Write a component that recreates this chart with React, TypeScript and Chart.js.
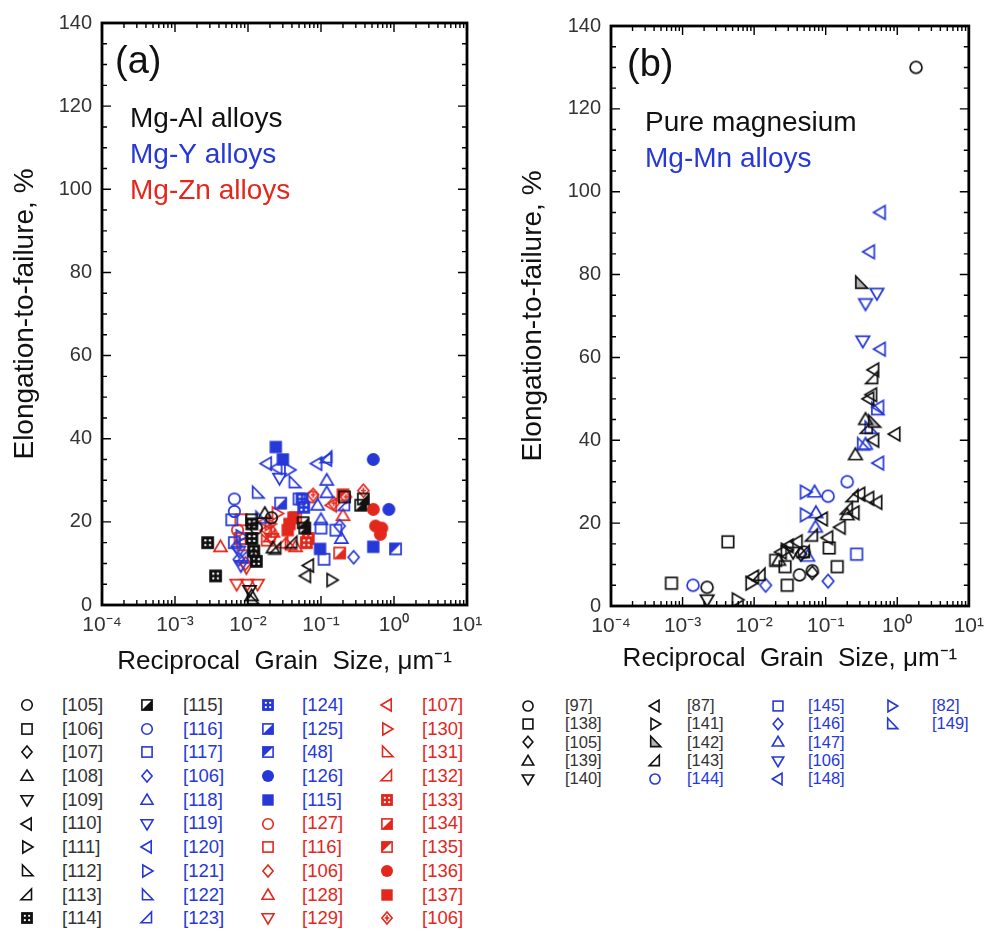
import React, { useEffect, useRef } from 'react';
import { Chart, registerables } from 'chart.js';
Chart.register(...registerables);

const FONT = '"Liberation Sans", Arial, Helvetica, sans-serif';
const BLACK = '#111111';
const BLUE = '#2638d8';
const RED = '#e3271c';
const GREY = '#b5b5b5';

// ---------- axes ----------
const xTickValues = [1e-4, 1e-3, 1e-2, 1e-1, 1, 10];
const xTickLabels = ['10⁻⁴', '10⁻³', '10⁻²', '10⁻¹', '10⁰', '10¹'];
const yTickValues = [0, 20, 40, 60, 80, 100, 120, 140];
const xTitle = 'Reciprocal  Grain  Size, μm⁻¹';
const yTitle = 'Elongation-to-failure, %';

const panelALabels = ['(a)', 'Mg-Al alloys', 'Mg-Y alloys', 'Mg-Zn alloys'];
const panelBLabels = ['(b)', 'Pure magnesium', 'Mg-Mn alloys'];

// ---------- panel (a) data: [reciprocal grain size, elongation %] ----------
// Mg-Al alloys (black)
const a105 = [[0.013, 18.5], [0.021, 21]];
const a106 = [[0.21, 26], [0.0112, 20.5]];
const a107 = [[0.012, 12]];
const a108 = [[0.0112, 2.2], [0.017, 22], [0.022, 13.7]];
const a109 = [[0.0105, 3.5]];
const a110 = [[0.062, 7], [0.068, 9.5]];
const a111 = [[0.14, 6]];
const a112 = [[0.0115, 1.5]];
const a113 = [[0.024, 13.5], [0.04, 15]];
const a114 = [[0.0028, 15], [0.0036, 7], [0.0113, 19.5], [0.0113, 16], [0.013, 10.5], [0.012, 13]];
const a115 = [[0.057, 19.8], [0.06, 18.5], [0.35, 24], [0.38, 25.5]];
// Mg-Y alloys (blue)
const y116 = [[0.0065, 25.5], [0.0065, 22.5]];
const y117 = [[0.006, 20.5], [0.0065, 15], [0.1, 18.5], [0.11, 11], [0.05, 25.5], [0.16, 18]];
const y106 = [[0.28, 11.5], [0.18, 19], [0.0075, 11], [0.007, 14]];
const y118 = [[0.12, 30], [0.12, 27], [0.19, 16], [0.1, 20.5], [0.09, 24]];
const y119 = [[0.027, 30.5], [0.0075, 13], [0.008, 9.5]];
const y120 = [[0.018, 34], [0.088, 34], [0.12, 35], [0.025, 33]];
const y121 = [[0.037, 32.5], [0.008, 16.5]];
const y122 = [[0.0135, 27], [0.043, 29.5], [0.015, 21]];
const y123 = [[0.12, 35.5], [0.0085, 11.5], [0.21, 24]];
const y124 = [[0.055, 25.5], [0.058, 23.5]];
const y125 = [[0.028, 24.5]];
const y48 = [[1.05, 13.5]];
const y126 = [[0.52, 35], [0.85, 23]];
const y115 = [[0.024, 38], [0.03, 35], [0.097, 13.5], [0.52, 14]];
// Mg-Zn alloys (red)
const z127 = [[0.076, 26], [0.0072, 18]];
const z116 = [[0.008, 20.5], [0.0078, 16], [0.0085, 14.5]];
const z106 = [[0.0092, 10]];
const z128 = [[0.0042, 14], [0.2, 21.5], [0.045, 14], [0.022, 17.5]];
const z129 = [[0.007, 5], [0.0098, 5], [0.0135, 5], [0.0095, 9], [0.021, 16]];
const z107 = [[0.017, 20], [0.018, 18], [0.14, 24]];
const z130 = [[0.02, 19.5], [0.025, 22]];
const z131 = [[0.038, 14.5], [0.018, 15.5]];
const z132 = [[0.02, 16.5], [0.03, 15]];
const z133 = [[0.067, 16], [0.063, 15]];
const z134 = [[0.18, 12.5]];
const z135 = [[0.045, 21], [0.2, 26.5]];
const z136 = [[0.52, 23], [0.56, 19], [0.68, 18.5], [0.65, 17]];
const z137 = [[0.042, 21], [0.037, 19.5], [0.035, 18]];
const z106b = [[0.38, 27.5], [0.15, 24.5], [0.078, 26.5], [0.22, 26]];

// ---------- panel (b) data ----------
// Pure magnesium (black)
const p97 = [[1.83, 130], [0.0022, 4.5], [0.043, 7.5], [0.065, 8.5], [0.05, 13]];
const p138 = [[0.0007, 5.5], [0.0043, 15.5], [0.029, 5], [0.112, 14], [0.145, 9.5], [0.02, 11], [0.027, 9.5]];
const p105 = [[0.065, 8], [0.045, 12.5]];
const p139 = [[0.26, 36.5], [0.36, 45], [0.022, 11], [0.2, 22]];
const p140 = [[0.0022, 1.5], [0.035, 13]];
const p87 = [[0.93, 41.5], [0.16, 19], [0.25, 22.5], [0.47, 57], [0.44, 51], [0.4, 50], [0.52, 25], [0.4, 26],
  [0.0098, 7], [0.024, 13], [0.03, 14.5], [0.04, 15.5], [0.09, 21], [0.107, 16.5], [0.47, 40], [0.3, 27]];
const p141 = [[0.0058, 1.5], [0.009, 5.5], [0.028, 13.5]];
const p142 = [[0.31, 78], [0.47, 44.5]];
const p143 = [[0.24, 26.5], [0.38, 43], [0.065, 17], [0.2, 23.5], [0.012, 7.5], [0.45, 55], [0.05, 13]];
// Mg-Mn alloys (blue)
const m144 = [[0.0014, 5], [0.108, 26.5], [0.2, 30]];
const m145 = [[0.27, 12.5]];
const m146 = [[0.0145, 5], [0.108, 6]];
const m147 = [[0.07, 27.5], [0.073, 22.5], [0.072, 19], [0.056, 12], [0.36, 39]];
const m106 = [[0.33, 64], [0.36, 73], [0.52, 75.5]];
const m148 = [[0.58, 95], [0.41, 85.5], [0.58, 62], [0.55, 34.5], [0.55, 48]];
const m82 = [[0.052, 27.5], [0.052, 22]];
const m149 = [[0.52, 47.5], [0.42, 43], [0.33, 39]];

type S = { ref: string; marker: string; color: string; pts: number[][] };

const seriesA: S[] = [
  { ref: '[105]', marker: 'circle', color: BLACK, pts: a105 },
  { ref: '[106]', marker: 'square', color: BLACK, pts: a106 },
  { ref: '[107]', marker: 'diamond', color: BLACK, pts: a107 },
  { ref: '[108]', marker: 'up', color: BLACK, pts: a108 },
  { ref: '[109]', marker: 'down', color: BLACK, pts: a109 },
  { ref: '[110]', marker: 'left', color: BLACK, pts: a110 },
  { ref: '[111]', marker: 'right', color: BLACK, pts: a111 },
  { ref: '[112]', marker: 'rta', color: BLACK, pts: a112 },
  { ref: '[113]', marker: 'rtb', color: BLACK, pts: a113 },
  { ref: '[114]', marker: 'xbox', color: BLACK, pts: a114 },
  { ref: '[115]', marker: 'halfbr', color: BLACK, pts: a115 },
  { ref: '[116]', marker: 'circle', color: BLUE, pts: y116 },
  { ref: '[117]', marker: 'square', color: BLUE, pts: y117 },
  { ref: '[106]', marker: 'diamond', color: BLUE, pts: y106 },
  { ref: '[118]', marker: 'up', color: BLUE, pts: y118 },
  { ref: '[119]', marker: 'down', color: BLUE, pts: y119 },
  { ref: '[120]', marker: 'left', color: BLUE, pts: y120 },
  { ref: '[121]', marker: 'right', color: BLUE, pts: y121 },
  { ref: '[122]', marker: 'rta', color: BLUE, pts: y122 },
  { ref: '[123]', marker: 'rtb', color: BLUE, pts: y123 },
  { ref: '[124]', marker: 'xbox', color: BLUE, pts: y124 },
  { ref: '[125]', marker: 'halfbr', color: BLUE, pts: y125 },
  { ref: '[48]', marker: 'halftl', color: BLUE, pts: y48 },
  { ref: '[126]', marker: 'fcircle', color: BLUE, pts: y126 },
  { ref: '[115]', marker: 'fsquare', color: BLUE, pts: y115 },
  { ref: '[127]', marker: 'circle', color: RED, pts: z127 },
  { ref: '[116]', marker: 'square', color: RED, pts: z116 },
  { ref: '[106]', marker: 'diamond', color: RED, pts: z106 },
  { ref: '[128]', marker: 'up', color: RED, pts: z128 },
  { ref: '[129]', marker: 'down', color: RED, pts: z129 },
  { ref: '[107]', marker: 'left', color: RED, pts: z107 },
  { ref: '[130]', marker: 'right', color: RED, pts: z130 },
  { ref: '[131]', marker: 'rta', color: RED, pts: z131 },
  { ref: '[132]', marker: 'rtb', color: RED, pts: z132 },
  { ref: '[133]', marker: 'xbox', color: RED, pts: z133 },
  { ref: '[134]', marker: 'halfbr', color: RED, pts: z134 },
  { ref: '[135]', marker: 'halftl', color: RED, pts: z135 },
  { ref: '[136]', marker: 'fcircle', color: RED, pts: z136 },
  { ref: '[137]', marker: 'fsquare', color: RED, pts: z137 },
  { ref: '[106]', marker: 'dplus', color: RED, pts: z106b },
];

const seriesB: S[] = [
  { ref: '[97]', marker: 'circle', color: BLACK, pts: p97 },
  { ref: '[138]', marker: 'square', color: BLACK, pts: p138 },
  { ref: '[105]', marker: 'diamond', color: BLACK, pts: p105 },
  { ref: '[139]', marker: 'up', color: BLACK, pts: p139 },
  { ref: '[140]', marker: 'down', color: BLACK, pts: p140 },
  { ref: '[87]', marker: 'left', color: BLACK, pts: p87 },
  { ref: '[141]', marker: 'right', color: BLACK, pts: p141 },
  { ref: '[142]', marker: 'rtag', color: BLACK, pts: p142 },
  { ref: '[143]', marker: 'rtb', color: BLACK, pts: p143 },
  { ref: '[144]', marker: 'circle', color: BLUE, pts: m144 },
  { ref: '[145]', marker: 'square', color: BLUE, pts: m145 },
  { ref: '[146]', marker: 'diamond', color: BLUE, pts: m146 },
  { ref: '[147]', marker: 'up', color: BLUE, pts: m147 },
  { ref: '[106]', marker: 'down', color: BLUE, pts: m106 },
  { ref: '[148]', marker: 'left', color: BLUE, pts: m148 },
  { ref: '[82]', marker: 'right', color: BLUE, pts: m82 },
  { ref: '[149]', marker: 'rta', color: BLUE, pts: m149 },
];

// ---------- marker drawing ----------
function drawMarker(ctx: CanvasRenderingContext2D, cx: number, cy: number, s: number, marker: string, color: string, lw: number) {
  const r = s / 2;
  const h = r * 0.85;
  ctx.save();
  ctx.lineWidth = lw;
  ctx.strokeStyle = color;
  ctx.fillStyle = color;
  ctx.lineJoin = 'miter';
  const poly = (pts: number[][], fill?: string) => {
    ctx.beginPath();
    pts.forEach((p, i) => (i ? ctx.lineTo(p[0], p[1]) : ctx.moveTo(p[0], p[1])));
    ctx.closePath();
    if (fill) { ctx.fillStyle = fill; ctx.fill(); }
    ctx.stroke();
  };
  switch (marker) {
    case 'circle':
      ctx.beginPath(); ctx.arc(cx, cy, r * 0.88, 0, Math.PI * 2); ctx.stroke(); break;
    case 'fcircle':
      ctx.beginPath(); ctx.arc(cx, cy, r, 0, Math.PI * 2); ctx.fill(); break;
    case 'square':
      ctx.strokeRect(cx - h, cy - h, 2 * h, 2 * h); break;
    case 'fsquare':
      ctx.fillRect(cx - r * 0.95, cy - r * 0.95, r * 1.9, r * 1.9); break;
    case 'diamond':
      poly([[cx, cy - r], [cx + r * 0.85, cy], [cx, cy + r], [cx - r * 0.85, cy]]); break;
    case 'up':
      poly([[cx, cy - r], [cx + r, cy + r * 0.7], [cx - r, cy + r * 0.7]]); break;
    case 'down':
      poly([[cx, cy + r], [cx + r, cy - r * 0.7], [cx - r, cy - r * 0.7]]); break;
    case 'left':
      poly([[cx - r, cy], [cx + r * 0.7, cy - r], [cx + r * 0.7, cy + r]]); break;
    case 'right':
      poly([[cx + r, cy], [cx - r * 0.7, cy - r], [cx - r * 0.7, cy + r]]); break;
    case 'rta':
      poly([[cx - r * 0.75, cy - r], [cx - r * 0.75, cy + r * 0.8], [cx + r, cy + r * 0.8]]); break;
    case 'rtag':
      poly([[cx - r * 0.75, cy - r], [cx - r * 0.75, cy + r * 0.8], [cx + r, cy + r * 0.8]], GREY); break;
    case 'rtb':
      poly([[cx + r * 0.75, cy - r], [cx + r * 0.75, cy + r * 0.8], [cx - r, cy + r * 0.8]]); break;
    case 'xbox': {
      ctx.fillRect(cx - h, cy - h, 2 * h, 2 * h);
      ctx.fillStyle = '#ffffff';
      const q = h * 0.42, d = Math.max(1.2, h * 0.28);
      [[-1, -1], [1, -1], [-1, 1], [1, 1]].forEach(([sx, sy]) => {
        ctx.beginPath(); ctx.arc(cx + sx * q, cy + sy * q, d / 2 + 0.4, 0, Math.PI * 2); ctx.fill();
      });
      ctx.strokeStyle = color;
      ctx.strokeRect(cx - h, cy - h, 2 * h, 2 * h);
      break;
    }
    case 'halfbr':
      ctx.beginPath(); ctx.moveTo(cx + h, cy - h); ctx.lineTo(cx + h, cy + h); ctx.lineTo(cx - h, cy + h); ctx.closePath(); ctx.fill();
      ctx.strokeRect(cx - h, cy - h, 2 * h, 2 * h); break;
    case 'halftl':
      ctx.beginPath(); ctx.moveTo(cx - h, cy - h); ctx.lineTo(cx + h, cy - h); ctx.lineTo(cx - h, cy + h); ctx.closePath(); ctx.fill();
      ctx.strokeRect(cx - h, cy - h, 2 * h, 2 * h); break;
    case 'dplus':
      poly([[cx, cy - r], [cx + r * 0.85, cy], [cx, cy + r], [cx - r * 0.85, cy]]);
      ctx.beginPath();
      ctx.moveTo(cx - r * 0.4, cy); ctx.lineTo(cx + r * 0.4, cy);
      ctx.moveTo(cx, cy - r * 0.45); ctx.lineTo(cx, cy + r * 0.45);
      ctx.stroke();
      break;
  }
  ctx.restore();
}

function markerImage(marker: string, color: string, s: number, lw: number) {
  const c = document.createElement('canvas');
  const d = Math.ceil(s + 6);
  c.width = d; c.height = d;
  const ctx = c.getContext('2d')!;
  drawMarker(ctx, d / 2, d / 2, s, marker, color, lw);
  return c;
}

// ---------- layout ----------
type PanelLayout = {
  width: number; height: number; left: number;
  yAxisWidth: number; xAxisHeight: number; padTop: number; padRight: number;
  yTitlePad: number; xTitlePad: number; markerSize: number;
  texts: { t: string; x: number; y: number; size: number; color: string }[];
};

const layoutA: PanelLayout = {
  width: 495, height: 680, left: 0,
  yAxisWidth: 102, xAxisHeight: 75, padTop: 23, padRight: 28,
  yTitlePad: 8, xTitlePad: 3, markerSize: 13,
  texts: [
    { t: panelALabels[0], x: 115, y: 73, size: 38, color: BLACK },
    { t: panelALabels[1], x: 130, y: 127, size: 28, color: BLACK },
    { t: panelALabels[2], x: 130, y: 163, size: 28, color: BLUE },
    { t: panelALabels[3], x: 130, y: 199, size: 28, color: RED },
  ],
};
const layoutB: PanelLayout = {
  width: 497, height: 680, left: 495,
  yAxisWidth: 116, xAxisHeight: 74, padTop: 26, padRight: 15,
  yTitlePad: 21, xTitlePad: 6, markerSize: 13.5,
  texts: [
    { t: panelBLabels[0], x: 132, y: 76, size: 38, color: BLACK },
    { t: panelBLabels[1], x: 150, y: 131, size: 28, color: BLACK },
    { t: panelBLabels[2], x: 150, y: 167, size: 28, color: BLUE },
  ],
};

function framePlugin(L: PanelLayout) {
  return {
    id: 'frameTicks',
    afterDatasetsDraw(chart: any) {
      const { ctx, chartArea: a, scales } = chart;
      const xs = scales.x, ys = scales.y;
      ctx.save();
      ctx.strokeStyle = '#000';
      ctx.lineWidth = 1.4;
      ctx.beginPath();
      for (let v = 0; v <= 140; v += 5) {
        const p = ys.getPixelForValue(v);
        const len = v % 20 === 0 ? 9 : 5;
        ctx.moveTo(a.left, p); ctx.lineTo(a.left + len, p);
        ctx.moveTo(a.right, p); ctx.lineTo(a.right - len, p);
      }
      for (let e = -4; e <= 0; e++) {
        for (let m = 1; m <= 9; m++) {
          const p = xs.getPixelForValue(m * Math.pow(10, e));
          const len = m === 1 ? 9 : 5;
          ctx.moveTo(p, a.bottom); ctx.lineTo(p, a.bottom - len);
          ctx.moveTo(p, a.top); ctx.lineTo(p, a.top + len);
        }
      }
      ctx.stroke();
      ctx.lineWidth = 2.8;
      ctx.strokeRect(a.left, a.top, a.right - a.left, a.bottom - a.top);
      ctx.textBaseline = 'alphabetic';
      ctx.textAlign = 'left';
      L.texts.forEach((tx) => {
        ctx.font = `${tx.size}px ${FONT}`;
        ctx.fillStyle = tx.color;
        ctx.fillText(tx.t, tx.x, tx.y);
      });
      ctx.restore();
    },
  };
}

function ScatterPanel({ series, L }: { series: S[]; L: PanelLayout }) {
  const ref = useRef<HTMLCanvasElement>(null);
  useEffect(() => {
    const canvas = ref.current!;
    const datasets = series.map((s) => ({
      label: s.ref,
      data: s.pts.map((p) => ({ x: p[0], y: p[1] })),
      pointStyle: markerImage(s.marker, s.color, L.markerSize, 1.7),
      pointRadius: L.markerSize / 2,
      showLine: false,
    }));
    const chart = new Chart(canvas, {
      type: 'scatter',
      data: { datasets },
      options: {
        responsive: false,
        animation: false,
        events: [],
        layout: { padding: { top: L.padTop, right: L.padRight, left: 0, bottom: 0 } },
        plugins: { legend: { display: false }, tooltip: { enabled: false } },
        scales: {
          x: {
            type: 'logarithmic',
            min: xTickValues[0],
            max: xTickValues[xTickValues.length - 1],
            afterBuildTicks: (scale: any) => { scale.ticks = xTickValues.map((v) => ({ value: v })); },
            afterFit: (scale: any) => { scale.height = L.xAxisHeight; },
            grid: { display: false, drawTicks: false },
            border: { display: false },
            ticks: {
              autoSkip: false, maxRotation: 0, minRotation: 0, padding: 8, color: '#333',
              font: { family: FONT, size: 21 },
              callback: (_v: any, i: number) => xTickLabels[i],
            },
            title: { display: true, text: xTitle, color: BLACK, font: { family: FONT, size: 26 }, padding: { top: 0, bottom: L.xTitlePad } },
          },
          y: {
            type: 'linear',
            min: 0,
            max: 140,
            afterBuildTicks: (scale: any) => { scale.ticks = yTickValues.map((v) => ({ value: v })); },
            afterFit: (scale: any) => { scale.width = L.yAxisWidth; },
            grid: { display: false, drawTicks: false },
            border: { display: false },
            ticks: { padding: 10, color: '#333', font: { family: FONT, size: 20 } },
            title: { display: true, text: yTitle, color: BLACK, font: { family: FONT, size: 28 }, padding: { top: L.yTitlePad, bottom: 0 } },
          },
        },
      } as any,
      plugins: [framePlugin(L)],
    });
    return () => chart.destroy();
  }, []);
  return (
    <canvas ref={ref} width={L.width} height={L.height}
      style={{ position: 'absolute', left: L.left, top: 0, width: L.width, height: L.height }} />
  );
}

function LegendIcon({ marker, color, size, x, y }: any) {
  const ref = useRef<HTMLCanvasElement>(null);
  const d = Math.ceil(size + 6);
  useEffect(() => {
    const c = ref.current!;
    const ctx = c.getContext('2d')!;
    ctx.clearRect(0, 0, d, d);
    drawMarker(ctx, d / 2, d / 2, size, marker, color, 1.6);
  }, []);
  return <canvas ref={ref} width={d} height={d} style={{ position: 'absolute', left: x - d / 2, top: y - d / 2 }} />;
}

type LegendLayout = { markerX: number[]; labelX: number[]; y0: number; dy: number; perCol: number; font: number; size: number };
const legendA: LegendLayout = { markerX: [27, 147, 268, 387], labelX: [62, 183, 302, 422], y0: 705, dy: 23.7, perCol: 10, font: 18.5, size: 12 };
const legendB: LegendLayout = { markerX: [528, 655, 778, 892], labelX: [565, 687, 808, 932], y0: 706, dy: 18.2, perCol: 5, font: 16.5, size: 11.5 };

function Legend({ series, L }: { series: S[]; L: LegendLayout }) {
  return (
    <>
      {series.map((s, i) => {
        const col = Math.floor(i / L.perCol);
        const row = i % L.perCol;
        const y = L.y0 + row * L.dy;
        return (
          <React.Fragment key={i}>
            <LegendIcon marker={s.marker} color={s.color} size={L.size} x={L.markerX[col]} y={y} />
            <div style={{
              position: 'absolute', left: L.labelX[col], top: y - L.font * 0.6, height: L.font * 1.2,
              lineHeight: `${L.font * 1.2}px`, fontSize: L.font, fontFamily: FONT, color: s.color === BLACK ? '#333' : s.color,
              whiteSpace: 'nowrap',
            }}>{s.ref}</div>
          </React.Fragment>
        );
      })}
    </>
  );
}

export default function App() {
  return (
    <div style={{ position: 'absolute', left: 0, top: 0, width: 992, height: 931, background: '#fff', overflow: 'hidden' }}>
      <ScatterPanel series={seriesA} L={layoutA} />
      <ScatterPanel series={seriesB} L={layoutB} />
      <Legend series={seriesA} L={legendA} />
      <Legend series={seriesB} L={legendB} />
    </div>
  );
}
